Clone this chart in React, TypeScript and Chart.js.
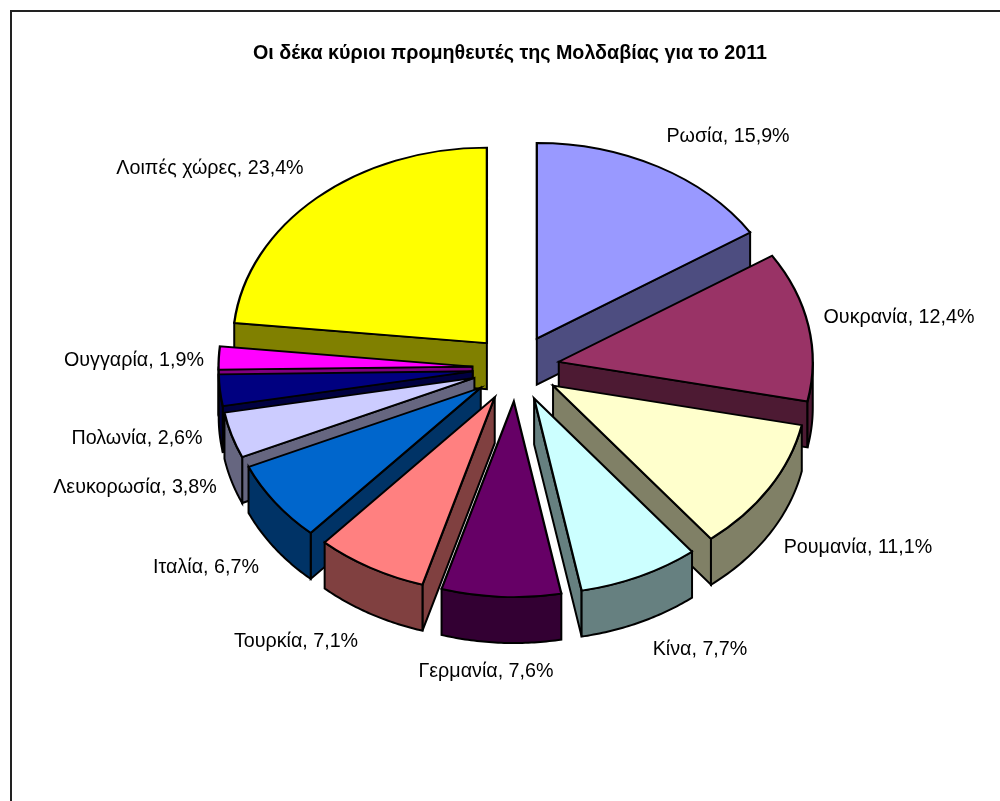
import React, { useEffect, useRef } from "react";
import { Chart, registerables } from "chart.js";

Chart.register(...registerables);

const categories = ["Ρωσία", "Ουκρανία", "Ρουμανία", "Κίνα", "Γερμανία", "Τουρκία", "Ιταλία", "Λευκορωσία", "Πολωνία", "Ουγγαρία", "Λοιπές χώρες"];
const shares = [15.9, 12.4, 11.1, 7.7, 7.6, 7.1, 6.7, 3.8, 2.6, 1.9, 23.4];
const topColors = ["#9999FF", "#993366", "#FFFFCC", "#CCFFFF", "#660066", "#FF8080", "#0066CC", "#CCCCFF", "#000080", "#FF00FF", "#FFFF00"];
const wallColors = ["#4D4D80", "#4D1A33", "#808066", "#668080", "#330033", "#804040", "#003366", "#666680", "#000040", "#800080", "#808000"];
const titleText = "Οι δέκα κύριοι προμηθευτές της Μολδαβίας για το 2011";

const scene = { cx: 516, cy: 368, tilt: 0.77, explode: 43.5, depth: 46, radius: 254 };
const labelCentres: [number, number][] = [
  [728, 136], [899, 317], [858, 547], [700, 649], [486, 671], [296, 641],
  [206, 567], [135, 487], [137, 438], [134, 360], [210, 168],
];

const FONT = '"Liberation Sans", Arial, sans-serif';

const pie3d = {
  id: "pie3d",
  beforeDraw(chart: any) {
    const { ctx } = chart;
    ctx.save();
    ctx.strokeStyle = "#222222";
    ctx.lineWidth = 2;
    ctx.beginPath();
    ctx.moveTo(11, 801);
    ctx.lineTo(11, 11);
    ctx.lineTo(1000, 11);
    ctx.stroke();
    ctx.restore();
  },
  beforeDatasetDraw(chart: any, args: any) {
    const { ctx } = chart;
    const arcs: any[] = [...args.meta.data];
    const mid = (a: any) => (a.startAngle + a.endAngle) / 2;
    arcs.sort((p, q) => Math.sin(mid(p)) - Math.sin(mid(q)));
    for (const arc of arcs) {
      const m = mid(arc);
      const ox = scene.cx + Math.cos(m) * scene.explode;
      const oy = scene.cy + Math.sin(m) * scene.explode * scene.tilt;
      const R = arc.outerRadius;
      const rim = (a: number, d = 0): [number, number] => [ox + R * Math.cos(a), oy + scene.tilt * R * Math.sin(a) + d];
      const wall = (pts: [number, number][]) => {
        ctx.beginPath();
        pts.forEach((p, i) => (i ? ctx.lineTo(p[0], p[1]) : ctx.moveTo(p[0], p[1])));
        ctx.closePath();
        ctx.fill();
        ctx.stroke();
      };
      ctx.save();
      ctx.fillStyle = wallColors[arc.$context.dataIndex];
      ctx.strokeStyle = "#000000";
      ctx.lineWidth = 2;
      ctx.lineJoin = "miter";
      ctx.miterLimit = 5;
      const d = scene.depth;
      const radial = (a: number) =>
        wall([[ox, oy], rim(a), rim(a, d), [ox, oy + d]]);
      if (Math.cos(arc.startAngle) < 0) radial(arc.startAngle);
      if (Math.cos(arc.endAngle) > 0) radial(arc.endAngle);
      const lo = Math.max(arc.startAngle, 0);
      const hi = Math.min(arc.endAngle, Math.PI);
      if (hi > lo) {
        const top: [number, number][] = [];
        const bottom: [number, number][] = [];
        const steps = 40;
        for (let i = 0; i <= steps; i++) {
          const a = lo + ((hi - lo) * i) / steps;
          top.push(rim(a));
          bottom.unshift(rim(a, d));
        }
        wall([...top, ...bottom]);
      }
      ctx.restore();
      ctx.save();
      ctx.miterLimit = 5;
      ctx.translate(ox, oy);
      ctx.scale(1, scene.tilt);
      ctx.translate(-arc.x, -arc.y);
      arc.draw(ctx);
      ctx.restore();
    }
    return false;
  },
  afterDatasetsDraw(chart: any) {
    const { ctx } = chart;
    ctx.save();
    ctx.fillStyle = "#000000";
    ctx.textAlign = "center";
    ctx.textBaseline = "middle";
    ctx.font = `bold 21px ${FONT}`;
    ctx.fillText(titleText, 510, 53, 514);
    ctx.font = `20.7px ${FONT}`;
    categories.forEach((name, i) => {
      const text = `${name}, ${shares[i].toFixed(1).replace(".", ",")}%`;
      ctx.fillText(text, labelCentres[i][0], labelCentres[i][1], ctx.measureText(text).width * 0.952);
    });
    ctx.restore();
  },
};

export default function App() {
  const ref = useRef<HTMLCanvasElement>(null);
  useEffect(() => {
    const chart = new Chart(ref.current as HTMLCanvasElement, {
      type: "pie",
      data: {
        labels: categories,
        datasets: [{
          data: shares,
          backgroundColor: topColors,
          borderColor: "#000000",
          borderWidth: 2.3,
          borderJoinStyle: "miter",
        } as any],
      },
      options: {
        responsive: false,
        animation: false,
        events: [],
        radius: scene.radius,
        plugins: {
          legend: { display: false },
          tooltip: { enabled: false },
          title: { display: false },
        },
      } as any,
      plugins: [pie3d as any],
    });
    return () => chart.destroy();
  }, []);
  return (
    <div style={{ position: "absolute", left: 0, top: 0, width: 1000, height: 801, background: "#fff" }}>
      <canvas ref={ref} width={1000} height={801} style={{ display: "block" }} />
    </div>
  );
}
